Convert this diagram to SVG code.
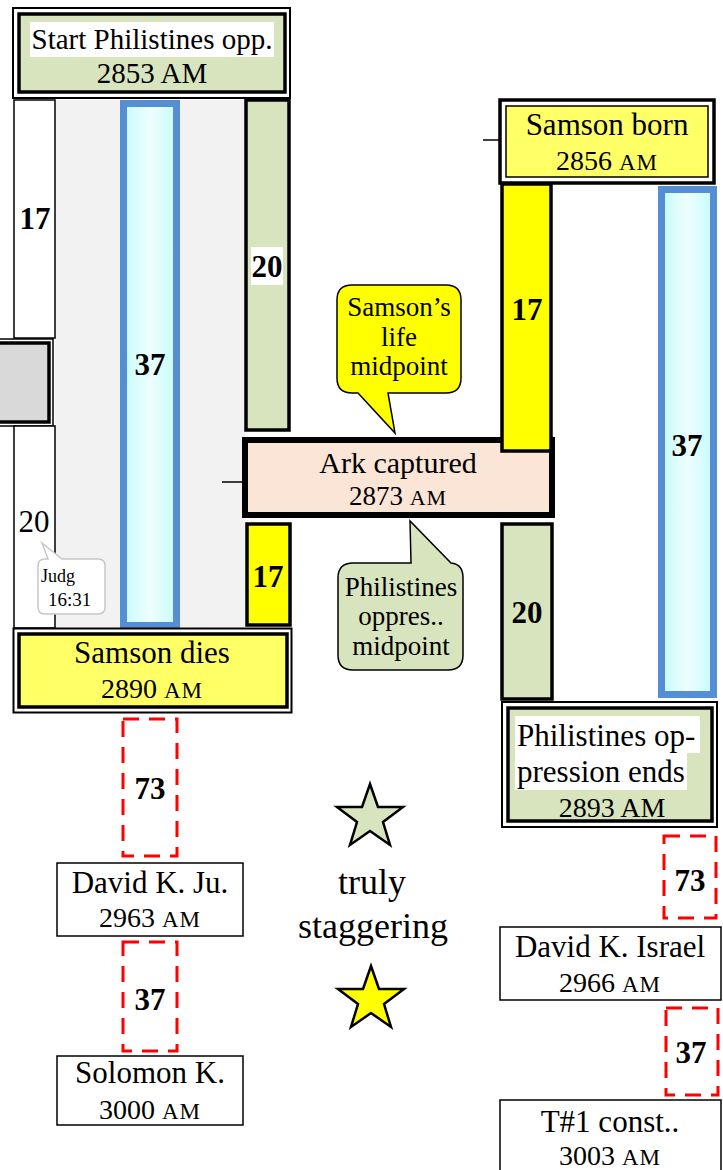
<svg xmlns="http://www.w3.org/2000/svg" width="723" height="1170" viewBox="0 0 723 1170">
<style>
text{font-family:"Liberation Serif","Times New Roman",serif;fill:#000;text-anchor:middle}
.t{font-size:31px}
.d{font-size:28px}
.sc{font-size:23px;letter-spacing:1px}
.b{font-size:31px;font-weight:bold}
.c{font-size:27px}
.thin{fill:none;stroke:#000;stroke-width:2}
.thick{stroke:#000;stroke-width:3.5}
.bar{stroke:#000;stroke-width:3.5}
.blue{stroke:#558ed5;stroke-width:7;fill:url(#cy)}
.dash{fill:none;stroke:#ff0000;stroke-width:3;stroke-dasharray:16,10}
.box{fill:#fff;stroke:#000;stroke-width:1.5}
</style>
<defs>
<linearGradient id="cy" x1="0" y1="0" x2="1" y2="0">
<stop offset="0" stop-color="#c6fbfb"/>
<stop offset="0.5" stop-color="#eefefe"/>
<stop offset="1" stop-color="#c6fbfb"/>
</linearGradient>
</defs>

<rect x="55" y="100" width="190" height="528" fill="#f2f2f2"/>

<g id="connectors">
<line x1="222" y1="482" x2="242" y2="482" stroke="#000" stroke-width="1.5"/>
<line x1="483" y1="140" x2="500" y2="140" stroke="#000" stroke-width="1.5"/>
</g>

<g id="bar17left">
<rect x="14" y="100" width="41" height="238" fill="#fff" stroke="#000" stroke-width="1.5"/>
<text class="b" x="35" y="229">17</text>
</g>
<g id="graybox">
<rect x="-2" y="339" width="55" height="87" fill="none" stroke="#000" stroke-width="1.5"/>
<rect x="-2" y="343" width="51" height="79" fill="#d9d9d9" class="thick"/>
</g>
<g id="bar20left">
<rect x="14" y="426" width="41" height="202" fill="#fff" stroke="#000" stroke-width="1.5"/>
<text x="34" y="532" style="font-size:31px">20</text>
</g>
<g id="judg">
<path d="M48,559 L42,543 L62,559 L98,559 Q105,559 105,566 L105,607 Q105,614 98,614 L45,614 Q38,614 38,607 L38,566 Q38,559 45,559 Z" fill="#fff" stroke="#c8c8c8" stroke-width="1.5"/>
<text x="41" y="582" style="font-size:18px;text-anchor:start">Judg</text>
<text x="48" y="606" style="font-size:19px;text-anchor:start">16:31</text>
</g>
<g id="blue37left">
<rect x="123.5" y="103.5" width="53" height="522" class="blue"/>
<text class="b" x="150" y="375">37</text>
</g>
<g id="green20left">
<rect x="246" y="100" width="43" height="330" fill="#d7e4bd" class="bar"/>
<rect x="251" y="247" width="32" height="38" fill="#fff"/>
<text class="b" x="267" y="277">20</text>
</g>
<g id="yellow17left">
<rect x="247" y="524" width="43" height="101" fill="#ffff00" class="bar"/>
<text class="b" x="268" y="587">17</text>
</g>

<g id="startPhil">
<rect x="13" y="8" width="277" height="90" class="thin"/>
<rect x="19" y="14" width="266" height="78" fill="#d7e4bd" class="thick"/>
<rect x="30" y="22" width="244" height="35" fill="#fff"/>
<text x="152" y="49" style="font-size:29px">Start Philistines opp.</text>
<text x="152" y="83" style="font-size:29px">2853 AM</text>
</g>

<g id="samsonDies">
<rect x="13.5" y="628.5" width="278" height="84" class="thin"/>
<rect x="19" y="634" width="268" height="73" fill="#ffff66" class="thick"/>
<text class="t" x="152" y="663">Samson dies</text>
<text class="d" x="152" y="698">2890 <tspan class="sc">AM</tspan></text>
</g>

<g id="ark">
<rect x="245" y="440" width="307" height="75" fill="#fbe5d6" stroke="#000" stroke-width="6"/>
<text x="398" y="473" style="font-size:30px">Ark captured</text>
<text x="398" y="505" style="font-size:27px">2873 <tspan style="font-size:22px;letter-spacing:1px">AM</tspan></text>
</g>

<g id="samsonMid">
<path d="M352,285 L446,285 Q461,285 461,300 L461,378 Q461,393 446,393 L388,393 L395,433 L358,393 L352,393 Q337,393 337,378 L337,300 Q337,285 352,285 Z" fill="#ffff00" stroke="#000" stroke-width="1.5"/>
<text class="c" x="399" y="316">Samson’s</text>
<text class="c" x="399" y="346">life</text>
<text class="c" x="399" y="375">midpoint</text>
</g>

<g id="philMid">
<path d="M353,563 L411,563 L410,521 L451,563 Q463,564 463,578 L463,655 Q463,670 448,670 L353,670 Q338,670 338,655 L338,578 Q338,563 353,563 Z" fill="#d7e4bd" stroke="#000" stroke-width="1.5"/>
<text class="c" x="401" y="596">Philistines</text>
<text class="c" x="401" y="625">oppres..</text>
<text class="c" x="401" y="655">midpoint</text>
</g>

<g id="samsonBorn">
<rect x="500" y="100" width="214" height="83" fill="none" stroke="#000" stroke-width="3.5"/>
<rect x="506" y="106" width="202" height="71" fill="#ffff66" stroke="#000" stroke-width="1.5"/>
<text class="t" x="607" y="135">Samson born</text>
<text class="d" x="607" y="170">2856 <tspan class="sc">AM</tspan></text>
</g>

<g id="yellow17right">
<rect x="502" y="184" width="49" height="267" fill="#ffff00" class="bar"/>
<text class="b" x="527" y="320">17</text>
</g>
<g id="blue37right">
<rect x="661.5" y="189.5" width="52" height="505" class="blue"/>
<text class="b" x="687" y="456">37</text>
</g>
<g id="green20right">
<rect x="502" y="524" width="50" height="175" fill="#d7e4bd" class="bar"/>
<text class="b" x="527" y="623">20</text>
</g>

<g id="philEnds">
<rect x="502" y="702" width="215" height="125" class="thin"/>
<rect x="508" y="708" width="204" height="113" fill="#d7e4bd" class="thick"/>
<rect x="515" y="716" width="185" height="37" fill="#fff"/>
<rect x="515" y="753" width="172" height="37" fill="#fff"/>
<text class="t" x="517" y="746" style="text-anchor:start">Philistines op-</text>
<text class="t" x="517" y="782" style="text-anchor:start">pression ends</text>
<text class="d" x="612" y="817">2893 AM</text>
</g>

<g id="dash73left">
<rect x="123" y="719" width="54" height="137" class="dash"/>
<text class="b" x="150" y="799">73</text>
</g>
<g id="davidJu">
<rect x="57" y="863" width="186" height="73" class="box"/>
<text class="t" x="150" y="893">David K. Ju.</text>
<text class="d" x="150" y="927">2963 <tspan class="sc">AM</tspan></text>
</g>
<g id="dash37left">
<rect x="123" y="942" width="54" height="109" class="dash"/>
<text class="b" x="150" y="1010">37</text>
</g>
<g id="solomon">
<rect x="57" y="1056" width="186" height="69" class="box"/>
<text class="t" x="150" y="1083">Solomon K.</text>
<text class="d" x="150" y="1119">3000 <tspan class="sc">AM</tspan></text>
</g>

<g id="dash73right">
<rect x="664" y="836" width="52" height="82" class="dash"/>
<text class="b" x="690" y="891">73</text>
</g>
<g id="davidIsrael">
<rect x="500" y="927" width="221" height="73" class="box"/>
<text class="t" x="610" y="957">David K. Israel</text>
<text class="d" x="610" y="992">2966 <tspan class="sc">AM</tspan></text>
</g>
<g id="dash37right">
<rect x="666" y="1008" width="52" height="87" class="dash"/>
<text class="b" x="691" y="1063">37</text>
</g>
<g id="temple">
<rect x="500" y="1100" width="221" height="75" class="box"/>
<text class="t" x="610" y="1132">T#1 const..</text>
<text class="d" x="610" y="1165">3003 <tspan class="sc">AM</tspan></text>
</g>

<g id="stars">
<polygon points="370,784 378,807 403,807 383,822 390,845 370,831 350,845 357,822 337,807 362,807" fill="#d7e4bd" stroke="#000" stroke-width="2.5"/>
<polygon points="371,966 379,989 404,989 384,1004 391,1027 371,1013 351,1027 358,1004 338,989 363,989" fill="#ffff00" stroke="#000" stroke-width="2.5"/>
<text x="372" y="894" style="font-size:36px">truly</text>
<text x="373" y="938" style="font-size:36px">staggering</text>
</g>
</svg>
